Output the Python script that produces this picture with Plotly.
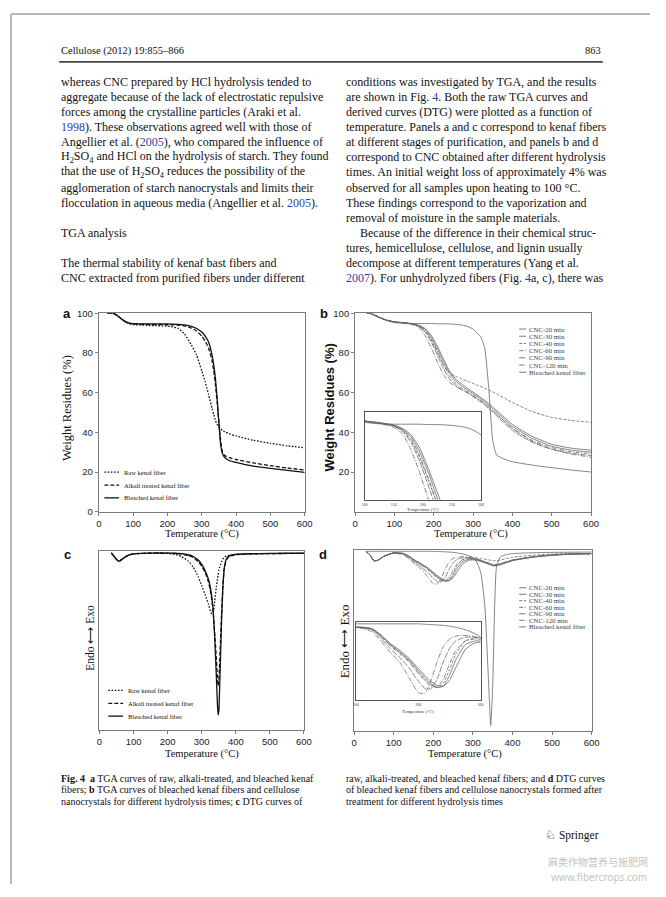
import plotly.graph_objects as go

# page geometry: the html body has an 8px margin, so the figure is 16px smaller
# than the window and every page position is shifted by that margin.
PAGE_W, PAGE_H = 666, 897
OFF = 8
W, H = PAGE_W - 2 * OFF, PAGE_H - 2 * OFF
def px(x): return (x - OFF) / W
def py(y): return 1 - (y - OFF) / H

SERIF = "Liberation Serif, Times New Roman, serif"
SANS = "Liberation Sans, Arial, sans-serif"
BLUE = "#2f3f9f"

# ---------------- data: panel a (TGA, fibers) ----------------
names_a = ["Raw kenaf fiber", "Alkali treated kenaf fiber", "Bleached kenaf fiber"]
T_a = [25, 40, 50, 60, 70, 80, 90, 100, 150, 200, 230, 250, 270, 285, 300, 310, 320, 330, 335, 340,
       345, 350, 355, 360, 365, 370, 380, 400, 450, 500, 550, 600]
raw_a = [100, 100, 99.3, 98, 96.5, 95.3, 94.7, 94.3, 93.8, 93.5, 92.5, 89.5, 84, 79, 71, 65.5, 59, 52, 49, 46,
         44, 42.8, 41.8, 41, 40.5, 40, 39.3, 38.2, 36, 34.5, 33.2, 32.2]
alk_a = [100, 100, 99.3, 98, 96.6, 95.5, 94.9, 94.6, 94.3, 94.2, 94, 93.6, 92.5, 91, 88.5, 86, 82.5, 76, 71, 64,
         55, 45, 36, 30.5, 28.8, 28, 27.2, 26.3, 24.6, 23.2, 22, 21]
ble_a = [100, 100, 99.3, 98, 96.7, 95.6, 95, 94.8, 94.6, 94.6, 94.4, 94.1, 93.4, 92.3, 90.5, 88.5, 85.5, 79, 74, 67,
         57, 45, 34, 29.5, 27.7, 26.8, 25.8, 24.8, 23, 21.8, 20.8, 19.8]

# ---------------- data: panel b (TGA, CNC) ----------------
names_b = ["CNC-20 min", "CNC-30 min", "CNC-40 min", "CNC-60 min", "CNC-90 min", "CNC-120 min", "Bleached kenaf fiber"]
T_b = [30, 40, 60, 80, 100, 125, 150, 165, 180, 195, 210, 225, 240, 255, 270, 285, 300, 320, 330, 340,
       350, 360, 380, 400, 450, 500, 550, 600]
cnc20_b = [100, 99.8, 98, 96.5, 95.7, 95.2, 94.6, 93.7, 92, 88.5, 83, 77, 71, 67, 64.5, 62.3, 60.3, 57.5, 56, 54.5,
           52.8, 51, 47.5, 44, 38, 34, 32, 31]
cnc30_b = [100, 99.8, 98, 96.5, 95.6, 95.2, 94.5, 93.5, 91.5, 87.5, 82, 75.5, 70, 66, 63.5, 61.5, 59.5, 56.8, 55.3, 53.7,
           52, 50.2, 46.5, 43, 37, 33, 31, 30]
cnc40_b = [100, 99.8, 98, 96.5, 95.6, 95.1, 94.4, 93.2, 90.5, 86, 80, 74, 70, 68.3, 67, 65.8, 64.6, 63, 62.2, 61.3,
           60.4, 59.4, 57.2, 55, 50.5, 47.5, 46, 45]
cnc60_b = [100, 99.8, 98, 96.5, 95.6, 95.1, 94.4, 93.3, 91, 86.5, 80.5, 74, 68.5, 64.8, 62.5, 60.7, 58.8, 56, 54.5, 52.8,
           51, 49, 45.5, 42, 36, 32.3, 30.2, 29.2]
cnc90_b = [100, 99.8, 98, 96.5, 95.6, 95.1, 94.3, 93, 90, 85, 78.5, 72, 67, 63.8, 61.8, 60, 58, 55.2, 53.6, 52,
           50.2, 48.3, 44.5, 41, 35, 31.5, 29.5, 28.3]
cnc120_b = [100, 99.8, 98, 96.5, 95.6, 95, 94, 92.3, 88, 82, 75, 69, 65.2, 63.2, 61.6, 60, 58.3, 55.8, 54.3, 52.8,
            51, 49.2, 45.5, 42, 35.5, 31.5, 29, 27.5]
ble_b = [100, 100, 98.2, 96.3, 95.3, 94.9, 94.8, 94.8, 94.8, 94.8, 94.7, 94.7, 94.6, 94.4, 94.1, 93.4, 92, 88, 82, 62,
         36, 28.5, 26.5, 25.2, 23.5, 22.2, 21, 20]

# ---------------- data: panel c (DTG, fibers) ----------------
T_c = [35, 45, 55, 60, 70, 85, 100, 150, 200, 220, 240, 260, 275, 290, 300, 310, 320, 328, 333, 338,
       343, 346, 348, 350, 352, 355, 358, 362, 366, 372, 380, 400, 450, 500, 600]
raw_c = [0, -0.05, -0.09, -0.09, -0.06, -0.025, -0.01, -0.002, -0.005, -0.015, -0.04, -0.09, -0.16, -0.27, -0.37,
         -0.47, -0.58, -0.68, -0.68, -0.55, -0.38, -0.3, -0.25, -0.2, -0.17, -0.13, -0.1, -0.07, -0.05, -0.035,
         -0.025, -0.015, -0.01, -0.007, -0.004]
alk_c = [0, -0.05, -0.09, -0.09, -0.06, -0.025, -0.01, -0.001, -0.002, -0.005, -0.012, -0.03, -0.05, -0.1, -0.15,
         -0.22, -0.33, -0.48, -0.65, -0.9, -1.2, -1.4, -1.5, -1.45, -1.3, -1.0, -0.7, -0.38, -0.18, -0.08,
         -0.04, -0.02, -0.01, -0.007, -0.004]
ble_c = [0, -0.05, -0.09, -0.09, -0.06, -0.025, -0.01, -0.001, -0.001, -0.003, -0.008, -0.02, -0.04, -0.08, -0.13,
         -0.2, -0.3, -0.45, -0.62, -0.95, -1.4, -1.7, -1.83, -1.8, -1.6, -1.2, -0.8, -0.4, -0.18, -0.07,
         -0.035, -0.015, -0.008, -0.005, -0.003]

# ---------------- data: panel d (DTG, CNC) ----------------
T_d = [30, 40, 50, 60, 75, 100, 125, 140, 155, 170, 185, 200, 210, 220, 230, 240, 250, 260, 275, 290,
       300, 310, 320, 330, 340, 345, 350, 355, 360, 370, 385, 400, 450, 500, 550, 600]
cnc20_d = [0, -0.02, -0.052, -0.05, -0.028, -0.009, -0.012, -0.029, -0.051, -0.069, -0.09, -0.117, -0.134, -0.15,
           -0.161, -0.163, -0.148, -0.115, -0.068, -0.05, -0.048, -0.05, -0.056, -0.064, -0.072, -0.076, -0.08,
           -0.081, -0.08, -0.074, -0.063, -0.052, -0.033, -0.022, -0.016, -0.012]
cnc30_d = [0, -0.02, -0.052, -0.05, -0.028, -0.009, -0.013, -0.031, -0.054, -0.073, -0.094, -0.122, -0.14, -0.156,
           -0.167, -0.163, -0.135, -0.095, -0.055, -0.045, -0.045, -0.048, -0.055, -0.063, -0.071, -0.075, -0.079,
           -0.08, -0.079, -0.073, -0.062, -0.051, -0.033, -0.022, -0.016, -0.013]
cnc40_d = [0, -0.02, -0.052, -0.05, -0.028, -0.009, -0.013, -0.032, -0.056, -0.075, -0.097, -0.127, -0.145, -0.16,
           -0.166, -0.155, -0.12, -0.08, -0.045, -0.037, -0.036, -0.037, -0.04, -0.044, -0.048, -0.05, -0.052,
           -0.053, -0.052, -0.048, -0.04, -0.033, -0.022, -0.015, -0.012, -0.02]
cnc60_d = [0, -0.02, -0.052, -0.05, -0.028, -0.009, -0.014, -0.034, -0.058, -0.078, -0.1, -0.13, -0.148, -0.162,
           -0.165, -0.145, -0.105, -0.07, -0.045, -0.04, -0.041, -0.045, -0.052, -0.06, -0.068, -0.072, -0.076,
           -0.078, -0.077, -0.071, -0.06, -0.05, -0.032, -0.021, -0.015, -0.013]
cnc90_d = [0, -0.02, -0.052, -0.05, -0.028, -0.009, -0.016, -0.038, -0.065, -0.088, -0.115, -0.15, -0.168, -0.17,
           -0.145, -0.1, -0.065, -0.045, -0.035, -0.035, -0.038, -0.043, -0.05, -0.058, -0.066, -0.07, -0.074,
           -0.075, -0.074, -0.069, -0.059, -0.049, -0.031, -0.021, -0.015, -0.012]
cnc120_d = [0, -0.02, -0.052, -0.05, -0.028, -0.01, -0.02, -0.045, -0.075, -0.1, -0.14, -0.18, -0.182, -0.15,
            -0.1, -0.06, -0.04, -0.032, -0.03, -0.033, -0.037, -0.042, -0.05, -0.058, -0.066, -0.07, -0.073,
            -0.074, -0.073, -0.068, -0.058, -0.048, -0.03, -0.02, -0.014, -0.012]
ble_d = [0, 0, 0, 0, 0, 0, 0, 0, 0, 0, 0, 0, -0.001, -0.002, -0.003, -0.004, -0.006, -0.009, -0.015, -0.025,
         -0.035, -0.06, -0.12, -0.3, -0.75, -0.97, -0.75, -0.3, -0.08, -0.03, -0.018, -0.013, -0.008, -0.006,
         -0.005, -0.004]

x_ticks = [0, 100, 200, 300, 400, 500, 600]
y_ticks_a = [0, 20, 40, 60, 80, 100]
y_ticks_b = [20, 40, 60, 80, 100]
inset_ticks_b = [100, 150, 200, 250, 300]
inset_ticks_d = [100, 200, 300]

# ---------------- page text ----------------
left_lines = [
    "whereas CNC prepared by HCl hydrolysis tended to",
    "aggregate because of the lack of electrostatic repulsive",
    "forces among the crystalline particles (Araki et al.",
    f"<span style='color:{BLUE}'>1998</span>). These observations agreed well with those of",
    f"Angellier et al. (<span style='color:{BLUE}'>2005</span>), who compared the influence of",
    "H<sub>2</sub>SO<sub>4</sub> and HCl on the hydrolysis of starch. They found",
    "that the use of H<sub>2</sub>SO<sub>4</sub> reduces the possibility of the",
    "agglomeration of starch nanocrystals and limits their",
    f"flocculation in aqueous media (Angellier et al. <span style='color:{BLUE}'>2005</span>).",
    "",
    "TGA analysis",
    "",
    "The thermal stability of kenaf bast fibers and",
    "CNC extracted from purified fibers under different",
]
right_lines = [
    "conditions was investigated by TGA, and the results",
    f"are shown in Fig. <span style='color:{BLUE}'>4</span>. Both the raw TGA curves and",
    "derived curves (DTG) were plotted as a function of",
    "temperature. Panels a and c correspond to kenaf fibers",
    "at different stages of purification, and panels b and d",
    "correspond to CNC obtained after different hydrolysis",
    "times. An initial weight loss of approximately 4% was",
    "observed for all samples upon heating to 100 °C.",
    "These findings correspond to the vaporization and",
    "removal of moisture in the sample materials.",
    "Because of the difference in their chemical struc-",
    "tures, hemicellulose, cellulose, and lignin usually",
    "decompose at different temperatures (Yang et al.",
    f"<span style='color:{BLUE}'>2007</span>). For unhydrolyzed fibers (Fig. <span style='color:{BLUE}'>4</span>a, c), there was",
]
caption_left = [
    "<b>Fig. 4</b>  <b>a</b> TGA curves of raw, alkali-treated, and bleached kenaf",
    "fibers; <b>b</b> TGA curves of bleached kenaf fibers and cellulose",
    "nanocrystals for different hydrolysis times; <b>c</b> DTG curves of",
]
caption_right = [
    "raw, alkali-treated, and bleached kenaf fibers; and <b>d</b> DTG curves",
    "of bleached kenaf fibers and cellulose nanocrystals formed after",
    "treatment for different hydrolysis times",
]

fig = go.Figure()

def line_style(color, width, dash):
    return dict(color=color, width=width, dash=dash, shape="spline", smoothing=0.5)

DOT = "1.6px,1.6px"
DASH = "4px,2px"

dash_a = [DOT, DASH, "solid"]
for name, vals, dsh in zip(names_a, [raw_a, alk_a, ble_a], dash_a):
    fig.add_trace(go.Scatter(x=T_a, y=vals, mode="lines", name=name, line=line_style("#111", 1.3, dsh),
                             xaxis="x", yaxis="y", showlegend=False))
for name, vals, dsh in zip(names_a, [raw_c, alk_c, ble_c], dash_a):
    fig.add_trace(go.Scatter(x=T_c, y=vals, mode="lines", name=name, line=line_style("#111", 1.3, dsh),
                             xaxis="x3", yaxis="y3", showlegend=False))

GRAY = "#666"
dash_b = ["solid", "solid", "3px,1.5px", "4px,1.5px,1px,1.5px", "6px,1.5px", "5px,1.5px,1px,1.5px", "solid"]
series_b = [cnc20_b, cnc30_b, cnc40_b, cnc60_b, cnc90_b, cnc120_b, ble_b]
series_d = [cnc20_d, cnc30_d, cnc40_d, cnc60_d, cnc90_d, cnc120_d, ble_d]
for ax, ay in [("x2", "y2"), ("x5", "y5")]:
    for name, vals, dsh in zip(names_b, series_b, dash_b):
        fig.add_trace(go.Scatter(x=T_b, y=vals, mode="lines", name=name, line=line_style(GRAY, 0.8, dsh),
                                 xaxis=ax, yaxis=ay, showlegend=False))
for ax, ay in [("x4", "y4"), ("x6", "y6")]:
    for name, vals, dsh in zip(names_b, series_d, dash_b):
        fig.add_trace(go.Scatter(x=T_d, y=vals, mode="lines", name=name, line=line_style(GRAY, 0.8, dsh),
                                 xaxis=ax, yaxis=ay, showlegend=False))

AXC = "#7a7a7a"
def ax_common(**kw):
    d = dict(showline=True, linecolor=AXC, linewidth=1, mirror=True, ticks="outside", ticklen=3,
             tickcolor=AXC, showgrid=False, zeroline=False,
             tickfont=dict(family=SANS, size=9.5, color="#222"))
    d.update(kw)
    return d

INSET_FONT = dict(family=SERIF, size=4, color="#444")
layout = dict(
    width=W, height=H, margin=dict(l=0, r=0, t=0, b=0),
    paper_bgcolor="white", plot_bgcolor="rgba(0,0,0,0)", showlegend=False,
    xaxis=ax_common(domain=[px(97.3), px(306.7)], anchor="y", range=[0, 600], tickvals=x_ticks),
    yaxis=ax_common(domain=[py(512), py(311)], anchor="x", range=[0, 100], tickvals=y_ticks_a),
    xaxis2=ax_common(domain=[px(358), px(598)], anchor="y2", range=[0, 600], tickvals=x_ticks),
    yaxis2=ax_common(domain=[py(512), py(311)], anchor="x2", range=[0, 100], tickvals=y_ticks_b),
    xaxis3=ax_common(domain=[px(98), px(306)], anchor="y3", range=[0, 600], tickvals=x_ticks),
    yaxis3=ax_common(domain=[py(733), py(552)], anchor="x3", range=[-2.0, 0.02], showticklabels=False, ticks=""),
    xaxis4=ax_common(domain=[px(357), px(598.7)], anchor="y4", range=[0, 600], tickvals=x_ticks),
    yaxis4=ax_common(domain=[py(734), py(551)], anchor="x4", range=[-1.0, 0.006], showticklabels=False, ticks=""),
    xaxis5=ax_common(domain=[px(367.7), px(486)], anchor="y5", range=[100, 300], tickvals=inset_ticks_b,
                     ticks="", tickfont=INSET_FONT, linecolor="#555"),
    yaxis5=ax_common(domain=[py(500), py(411)], anchor="x5", range=[75, 98], showticklabels=False, ticks="",
                     linecolor="#555"),
    xaxis6=ax_common(domain=[px(359), px(485.7)], anchor="y6", range=[100, 300], tickvals=inset_ticks_d,
                     ticks="", tickfont=INSET_FONT, linecolor="#555"),
    yaxis6=ax_common(domain=[py(703), py(624)], anchor="x6", range=[-0.2, 0.004], showticklabels=False, ticks="",
                     linecolor="#555"),
)
fig.update_layout(**layout)

ann = []
shapes = []
def text(x, y, s, size, family=SERIF, color="#111", xanchor="left", angle=0, yanchor="middle"):
    ann.append(dict(x=px(x), y=py(y), xref="paper", yref="paper", text=s, showarrow=False,
                    xanchor=xanchor, yanchor=yanchor, textangle=angle,
                    font=dict(family=family, size=size, color=color)))

# page border (top / left)
shapes.append(dict(type="line", xref="paper", yref="paper", x0=0, x1=1, y0=1, y1=1,
                   line=dict(color="#b8b8b8", width=2)))
shapes.append(dict(type="line", xref="paper", yref="paper", x0=0, x1=0, y0=0, y1=1,
                   line=dict(color="#b8b8b8", width=2)))

# header
text(57, 45, "Cellulose (2012) 19:855–866", 10.5)
text(610, 45, "863", 10.5, xanchor="right")
shapes.append(dict(type="line", xref="paper", yref="paper", x0=px(57), x1=px(610), y0=py(56.5), y1=py(56.5),
                   line=dict(color="#444", width=1.6)))

# body text
for i, s in enumerate(left_lines):
    if s:
        text(57, 77.3 + i * 15.2, s, 12)
for i, s in enumerate(right_lines):
    xs = 361 if s.startswith("Because") else 346.5
    text(xs, 77.3 + i * 15.2, s, 12)

# captions
for i, s in enumerate(caption_left):
    text(57, 781.7 + i * 11.7, s, 10)
for i, s in enumerate(caption_right):
    text(346.5, 781.7 + i * 11.7, s, 10)

text(608, 840, "♘ Springer", 11.5, xanchor="right")
text(658, 866, "麻类作物营养与施肥网", 10, family="Noto Sans CJK SC", color="#c4c4c4", xanchor="right")
text(657, 882, "www.fibercrops.com", 10, family="Noto Sans", color="#c4c4c4", xanchor="right")

# panel letters
for (x, y, s) in [(65, 311, "a"), (326, 311, "b"), (65, 555, "c"), (325, 555, "d")]:
    text(x, y, f"<b>{s}</b>", 13, family=SANS, xanchor="center")

# axis titles
text(202, 535, "Temperature (°C)", 10.5, xanchor="center")
text(476, 535, "Temperature (°C)", 10.5, xanchor="center")
text(202, 757, "Temperature (°C)", 10.5, xanchor="center")
text(470, 757, "Temperature (°C)", 10.5, xanchor="center")
text(65, 407, "Weight Residues (%)", 12.5, xanchor="center", angle=-90)
text(332, 407, "<b>Weight Residues (%)</b>", 13, family=SANS, xanchor="center", angle=-90)
text(88, 640, "Endo ⟷ Exo", 11.5, xanchor="center", angle=-90)
text(347, 643, "Endo ⟷ Exo", 13, xanchor="center", angle=-90)
text(427, 510, "Temperature (°C)", 4.5, color="#333", xanchor="center")
text(422, 714, "Temperature (°C)", 4.5, color="#333", xanchor="center")

# legends (a, c)
for (x0, y0, dy) in [(103, 472, 13), (107, 693, 13)]:
    for i, (name, dsh) in enumerate(zip(names_a, dash_a)):
        yy = y0 + i * dy
        shapes.append(dict(type="line", xref="paper", yref="paper", x0=px(x0), x1=px(x0 + 15),
                           y0=py(yy), y1=py(yy), line=dict(color="#111", width=1.3, dash=dsh)))
        text(x0 + 18, yy, name, 6.5, color="#111")
# legends (b, d)
for (x0, y0, dy) in [(525, 327, 7.3), (525, 589, 6.6)]:
    for i, (name, dsh) in enumerate(zip(names_b, dash_b)):
        yy = y0 + i * dy
        shapes.append(dict(type="line", xref="paper", yref="paper", x0=px(x0), x1=px(x0 + 7),
                           y0=py(yy), y1=py(yy), line=dict(color=GRAY, width=0.9, dash=dsh)))
        text(x0 + 8, yy, name, 6.8, color="#444")

fig.update_layout(annotations=ann, shapes=shapes)
fig.write_html("out.html")
